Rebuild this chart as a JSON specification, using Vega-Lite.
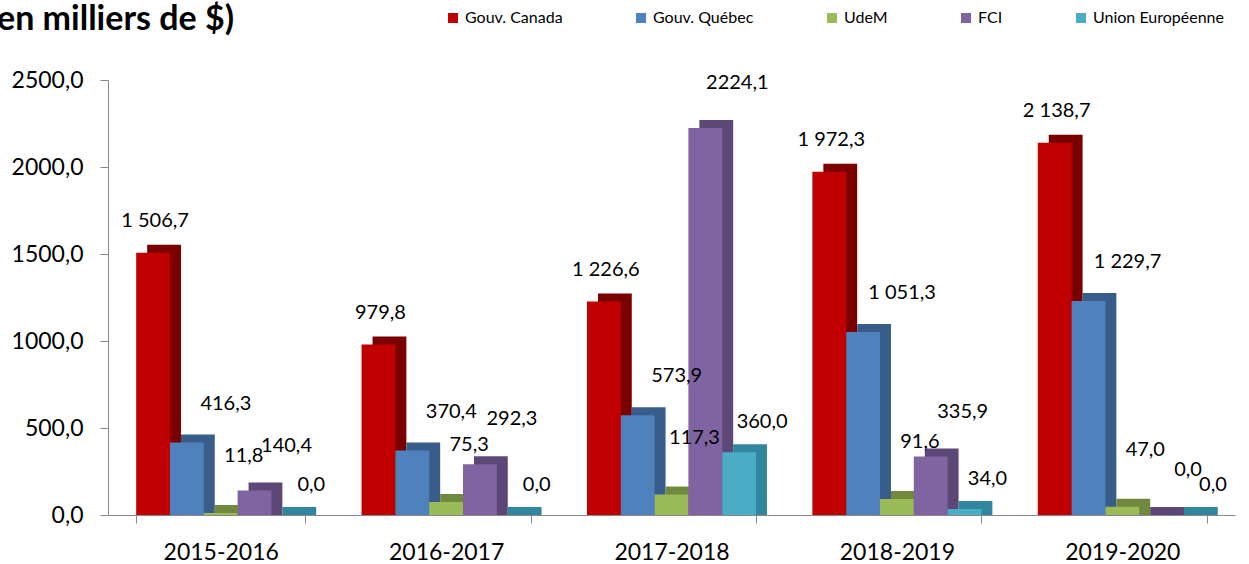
{
  "$schema": "https://vega.github.io/schema/vega-lite/v6.json",
  "width": 1127,
  "height": 435,
  "autosize": {"type": "none"},
  "padding": {"left": 108, "top": 80, "right": 14, "bottom": 49},
  "background": "white",
  "title": {"text": "en milliers de $)", "anchor": "start", "frame": "group", "dx": -111, "offset": -27, "fontSize": 34, "fontWeight": "bold", "font": "Lato", "color": "black"},
  "data": {"values": [
    {"annee": "2015-2016", "serie": "Gouv. Canada", "montant": 1506.7},
    {"annee": "2015-2016", "serie": "Gouv. Québec", "montant": 416.3},
    {"annee": "2015-2016", "serie": "UdeM", "montant": 11.8},
    {"annee": "2015-2016", "serie": "FCI", "montant": 140.4},
    {"annee": "2015-2016", "serie": "Union Européenne", "montant": 0.0},
    {"annee": "2016-2017", "serie": "Gouv. Canada", "montant": 979.8},
    {"annee": "2016-2017", "serie": "Gouv. Québec", "montant": 370.4},
    {"annee": "2016-2017", "serie": "UdeM", "montant": 75.3},
    {"annee": "2016-2017", "serie": "FCI", "montant": 292.3},
    {"annee": "2016-2017", "serie": "Union Européenne", "montant": 0.0},
    {"annee": "2017-2018", "serie": "Gouv. Canada", "montant": 1226.6},
    {"annee": "2017-2018", "serie": "Gouv. Québec", "montant": 573.9},
    {"annee": "2017-2018", "serie": "UdeM", "montant": 117.3},
    {"annee": "2017-2018", "serie": "FCI", "montant": 2224.1},
    {"annee": "2017-2018", "serie": "Union Européenne", "montant": 360.0},
    {"annee": "2018-2019", "serie": "Gouv. Canada", "montant": 1972.3},
    {"annee": "2018-2019", "serie": "Gouv. Québec", "montant": 1051.3},
    {"annee": "2018-2019", "serie": "UdeM", "montant": 91.6},
    {"annee": "2018-2019", "serie": "FCI", "montant": 335.9},
    {"annee": "2018-2019", "serie": "Union Européenne", "montant": 34.0},
    {"annee": "2019-2020", "serie": "Gouv. Canada", "montant": 2138.7},
    {"annee": "2019-2020", "serie": "Gouv. Québec", "montant": 1229.7},
    {"annee": "2019-2020", "serie": "UdeM", "montant": 47.0},
    {"annee": "2019-2020", "serie": "FCI", "montant": 0.0},
    {"annee": "2019-2020", "serie": "Union Européenne", "montant": 0.0}
  ]},
  "encoding": {
    "x": {"field": "annee", "type": "nominal", "title": null,
      "scale": {"paddingInner": 0.25, "paddingOuter": 0.125},
      "axis": {"labelAngle": 0, "tickBand": "extent", "tickSize": 8, "labelPadding": 18, "labelFontSize": 23, "domainColor": "#888888", "tickColor": "#888888", "labelColor": "black"}},
    "y": {"field": "montant", "type": "quantitative", "title": null, "stack": null,
      "scale": {"domain": [0, 2500], "nice": false},
      "axis": {"values": [0, 500, 1000, 1500, 2000, 2500], "format": ".1f", "grid": false, "tickSize": 8, "labelPadding": 17, "labelFontSize": 23, "domainColor": "#888888", "tickColor": "#888888", "labelColor": "black"}}
  },
  "layer": [
    {
      "mark": {"type": "bar", "yOffset": -8, "y2Offset": 0.01},
      "encoding": {
        "xOffset": {"field": "serie", "type": "nominal",
          "scale": {"type": "band", "domain": ["Gouv. Canada", "Gouv. Québec", "UdeM", "FCI", "Union Européenne"], "range": [11, 180], "paddingInner": 0, "paddingOuter": 0}},
        "color": {"field": "serie", "type": "nominal", "legend": null,
          "scale": {"domain": ["Gouv. Canada", "Gouv. Québec", "UdeM", "FCI", "Union Européenne"], "range": ["#7a0000", "#385d8a", "#71893f", "#5c4776", "#31859c"]}}
      }
    },
    {
      "mark": {"type": "bar"},
      "encoding": {
        "xOffset": {"field": "serie", "type": "nominal",
          "scale": {"type": "band", "domain": ["Gouv. Canada", "Gouv. Québec", "UdeM", "FCI", "Union Européenne"], "paddingInner": 0, "paddingOuter": 0}},
        "color": {"field": "serie", "type": "nominal",
          "scale": {"domain": ["Gouv. Canada", "Gouv. Québec", "UdeM", "FCI", "Union Européenne"], "range": ["#c00000", "#4f81bd", "#9bbb59", "#8064a2", "#4bacc6"]},
          "legend": {"title": null, "orient": "none", "direction": "horizontal", "legendX": 337, "legendY": -70, "symbolType": "square", "symbolSize": 100, "symbolStrokeWidth": 0, "labelFontSize": 16, "labelFont": "Lato", "labelColor": "black", "labelOffset": 4, "columnPadding": 70, "padding": 0, "labelLimit": 300}}
      }
    },
    {
      "transform": [{"filter": "datum.serie === 'Gouv. Canada'"}],
      "mark": {"type": "text", "fontSize": 20, "baseline": "middle", "dx": 2, "dy": -32, "color": "black"},
      "encoding": {
        "xOffset": {"field": "serie", "type": "nominal", "scale": {"type": "band", "domain": ["Gouv. Canada", "Gouv. Québec", "UdeM", "FCI", "Union Européenne"], "paddingInner": 0, "paddingOuter": 0}},
        "text": {"field": "montant", "type": "quantitative", "format": ",.1f"}}
    },
    {
      "transform": [{"filter": "datum.serie === 'Gouv. Québec'"}],
      "mark": {"type": "text", "fontSize": 20, "baseline": "middle", "dx": 39, "dy": -39, "color": "black"},
      "encoding": {
        "xOffset": {"field": "serie", "type": "nominal", "scale": {"type": "band", "domain": ["Gouv. Canada", "Gouv. Québec", "UdeM", "FCI", "Union Européenne"], "paddingInner": 0, "paddingOuter": 0}},
        "text": {"field": "montant", "type": "quantitative", "format": ",.1f"}}
    },
    {
      "transform": [{"filter": "datum.serie === 'UdeM'"}],
      "mark": {"type": "text", "fontSize": 20, "baseline": "middle", "dx": 23, "dy": -57, "color": "black"},
      "encoding": {
        "xOffset": {"field": "serie", "type": "nominal", "scale": {"type": "band", "domain": ["Gouv. Canada", "Gouv. Québec", "UdeM", "FCI", "Union Européenne"], "paddingInner": 0, "paddingOuter": 0}},
        "text": {"field": "montant", "type": "quantitative", "format": ",.1f"}}
    },
    {
      "transform": [{"filter": "datum.serie === 'FCI'"}],
      "mark": {"type": "text", "fontSize": 20, "baseline": "middle", "dx": 32, "dy": -45, "color": "black"},
      "encoding": {
        "xOffset": {"field": "serie", "type": "nominal", "scale": {"type": "band", "domain": ["Gouv. Canada", "Gouv. Québec", "UdeM", "FCI", "Union Européenne"], "paddingInner": 0, "paddingOuter": 0}},
        "text": {"field": "montant", "type": "quantitative", "format": ".1f"}}
    },
    {
      "transform": [{"filter": "datum.serie === 'Union Européenne'"}],
      "mark": {"type": "text", "fontSize": 20, "baseline": "middle", "dx": 23, "dy": -30, "color": "black"},
      "encoding": {
        "xOffset": {"field": "serie", "type": "nominal", "scale": {"type": "band", "domain": ["Gouv. Canada", "Gouv. Québec", "UdeM", "FCI", "Union Européenne"], "paddingInner": 0, "paddingOuter": 0}},
        "text": {"field": "montant", "type": "quantitative", "format": ",.1f"}}
    }
  ],
  "resolve": {"scale": {"color": "independent", "xOffset": "independent"}},
  "config": {
    "font": "Lato",
    "view": {"stroke": null},
    "locale": {"number": {"decimal": ",", "thousands": " ", "grouping": [3], "currency": ["", " $"]}}
  }
}
